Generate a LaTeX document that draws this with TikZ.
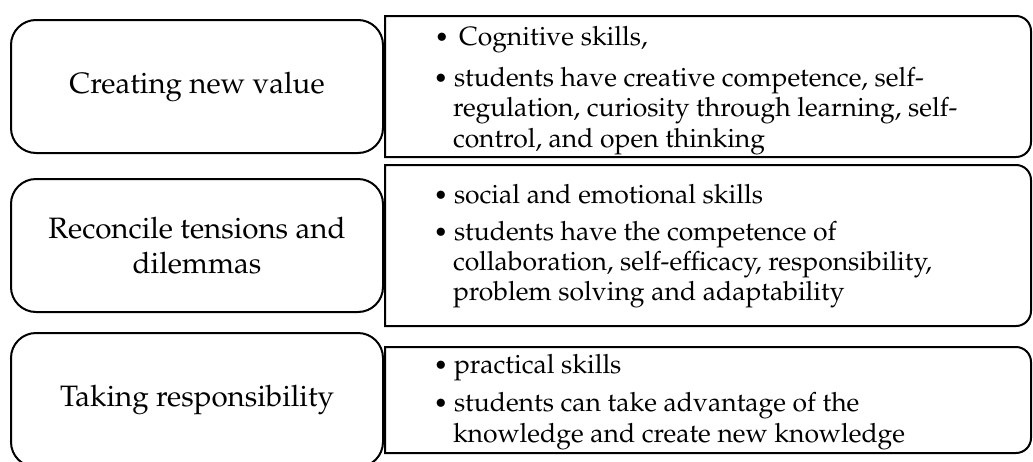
\documentclass[tikz,border=0pt]{standalone}
\usepackage[T1]{fontenc}
\usepackage{mathpazo}
\begin{document}
\begin{tikzpicture}[x=1pt,y=-1pt,line width=2pt,
  leftbox/.style={draw,rounded corners=25pt,minimum width=372pt,align=center,
    font=\fontsize{29.5}{35}\selectfont},
  rline/.style={anchor=base west,inner sep=0pt,font=\fontsize{26.5}{30}\selectfont},
  bul/.style={anchor=base,inner sep=0pt,font=\fontsize{24}{24}\selectfont}]
\useasboundingbox (0,0) rectangle (1033,461);
\clip (0,0) rectangle (1033,461);
% left boxes
\node[leftbox,minimum height=133pt] (L1) at (197,86.5) {Creating new value};
\node[leftbox,minimum height=133pt] (L2) at (197,245.5) {Reconcile tensions and\\dilemmas};
\node[leftbox,minimum height=134pt] (L3) at (197,400) {Taking responsibility};
% right boxes
\draw (385,16) -- (1016,16) arc[start angle=-90,end angle=0,radius=15]
  -- (1031,142) arc[start angle=0,end angle=90,radius=15] -- (385,157) -- cycle;
\draw (385,165) -- (1016,165) arc[start angle=-90,end angle=0,radius=15]
  -- (1031,311) arc[start angle=0,end angle=90,radius=15] -- (385,326) -- cycle;
\draw (385,347) -- (1016,347) arc[start angle=-90,end angle=0,radius=15]
  -- (1031,438) arc[start angle=0,end angle=90,radius=15] -- (385,453) -- cycle;
% row 1 text
\node[bul] (b11) at (442,45) {\textbullet};
\node[rline] (t11) at (458,45) {Cognitive skills,};
\node[bul] (b12) at (441,86) {\textbullet};
\node[rline] (t12) at (453,86) {students have creative competence, self-};
\node[rline] (t13) at (452,116) {regulation, curiosity through learning, self-};
\node[rline] (t14) at (452,147) {control, and open thinking};
% row 2 text
\node[bul] (b21) at (441,203) {\textbullet};
\node[rline] (t21) at (453,203) {social and emotional skills};
\node[bul] (b22) at (441,240) {\textbullet};
\node[rline] (t22) at (453,240) {students have the competence of};
\node[rline] (t23) at (452,270) {collaboration, self-efficacy, responsibility,};
\node[rline] (t24) at (452,300) {problem solving and adaptability};
% row 3 text
\node[bul] (b31) at (441,373) {\textbullet};
\node[rline] (t31) at (453,373) {practical skills};
\node[bul] (b32) at (441,411) {\textbullet};
\node[rline] (t32) at (453,411) {students can take advantage of the};
\node[rline] (t33) at (452,442) {knowledge and create new knowledge};
\end{tikzpicture}
\end{document}
